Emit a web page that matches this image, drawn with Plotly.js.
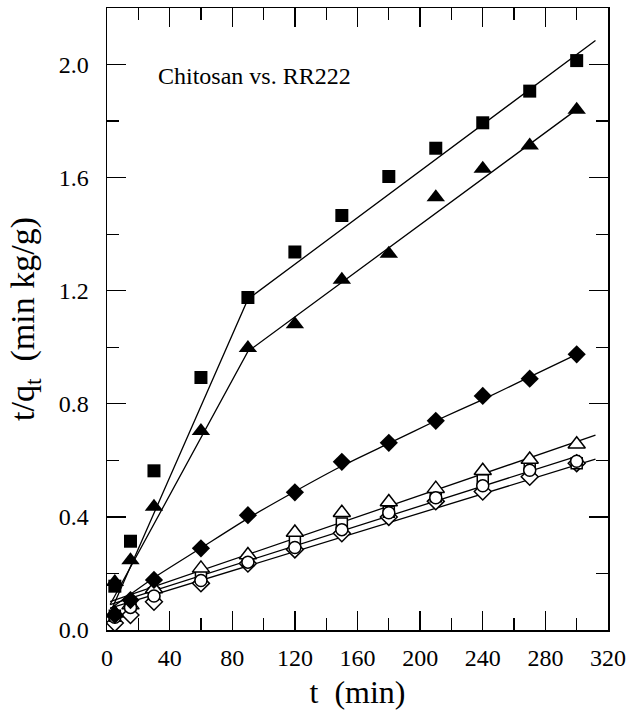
<!DOCTYPE html>
<html>
<head>
<meta charset="utf-8">
<script src="https://cdn.plot.ly/plotly-3.0.1.min.js"></script>
<style>html,body{margin:0;padding:0;background:#fff;}#chart{width:628px;height:721px;}</style>
</head>
<body>
<div id="chart"></div>
<script>
// Sampling times (min)
const t = [5, 15, 30, 60, 90, 120, 150, 180, 210, 240, 270, 300];

// Measured t/qt values (min kg/g)
const squareFilled   = [0.155, 0.314, 0.563, 0.893, 1.176, 1.337, 1.466, 1.604, 1.704, 1.794, 1.906, 2.014];
const triangleFilled = [0.170, 0.247, 0.436, 0.704, 0.997, 1.081, 1.239, 1.331, 1.531, 1.631, 1.714, 1.840];
const diamondFilled  = [0.053, 0.106, 0.177, 0.289, 0.406, 0.487, 0.595, 0.662, 0.740, 0.828, 0.889, 0.975];
const triangleOpen   = [0.059, 0.088, 0.145, 0.218, 0.265, 0.345, 0.415, 0.453, 0.500, 0.563, 0.603, 0.657];
const squareOpen     = [0.050, 0.090, 0.130, 0.190, 0.245, 0.312, 0.377, 0.418, 0.473, 0.530, 0.580, 0.590];
const circleOpen     = [0.045, 0.080, 0.120, 0.175, 0.240, 0.292, 0.355, 0.415, 0.468, 0.510, 0.565, 0.597];
const diamondOpen    = [0.025, 0.053, 0.100, 0.165, 0.235, 0.285, 0.342, 0.400, 0.455, 0.490, 0.542, 0.590];

// Fitted lines
const fitSquareT = [2, 90, 312];
const fitSquareY = [0.06, 1.17, 2.085];
const fitTriangleT = [2, 90, 301];
const fitTriangleY = [0.09, 0.985, 1.845];
const fitDiamondT = [2, 30, 60, 90, 120, 150, 180, 210, 240, 270, 302];
const fitDiamondY = [0.075, 0.185, 0.29, 0.395, 0.49, 0.58, 0.66, 0.74, 0.815, 0.895, 0.98];
const fitOpenTopT = [2, 312];
const fitOpenTopY = [0.10, 0.689];
const fitOpenMidT = [2, 302];
const fitOpenMidY = [0.09, 0.618];
const fitOpenLowT = [2, 312];
const fitOpenLowY = [0.077, 0.604];

const lineStyle = {color: '#000', width: 1.3};
function fit(x, y, shape) {
  return {x: x, y: y, mode: 'lines', line: Object.assign({shape: shape || 'linear', smoothing: 0.6}, lineStyle), hoverinfo: 'skip', showlegend: false};
}
function pts(y, symbol, size, open) {
  return {x: t, y: y, mode: 'markers', showlegend: false,
    marker: {symbol: symbol, size: size, color: open ? '#fff' : '#000',
             line: {color: '#000', width: open ? 1.5 : 0}}};
}

const data = [
  fit(fitSquareT, fitSquareY),
  fit(fitTriangleT, fitTriangleY),
  fit(fitDiamondT, fitDiamondY, 'spline'),
  fit(fitOpenTopT, fitOpenTopY),
  fit(fitOpenMidT, fitOpenMidY),
  fit(fitOpenLowT, fitOpenLowY),
  pts(diamondOpen, 'diamond', 13, true),
  pts(squareOpen, 'square', 11, true),
  pts(triangleOpen, 'triangle-up', 15, true),
  pts(circleOpen, 'circle', 12, true),
  pts(squareFilled, 'square', 13, false),
  pts(triangleFilled, 'triangle-up', 16, false),
  pts(diamondFilled, 'diamond', 14, false)
];

const F1 = 'Liberation Serif';
const F2 = 'Times New Roman';
const layout = {
  width: 628, height: 721,
  margin: {l: 107, r: 20, t: 8, b: 91},
  paper_bgcolor: '#fff', plot_bgcolor: '#fff',
  font: {family: F1, size: 24, color: '#000'},
  showlegend: false,
  xaxis: {
    range: [0, 320], dtick: 40, tick0: 0,
    ticks: 'inside', ticklen: 19, tickwidth: 1.3, tickcolor: '#000',
    minor: {dtick: 20, ticks: 'inside', ticklen: 12, tickwidth: 1.3, tickcolor: '#000'},
    showline: true, linecolor: '#000', linewidth: 1.5, mirror: 'ticks',
    showgrid: false, zeroline: false,
    tickfont: {family: F1, size: 24, color: '#000'},
    ticklabelstandoff: 6,
    title: {text: 't&nbsp;&nbsp;(min)', font: {family: F2, size: 32, color: '#000'}, standoff: 10}
  },
  yaxis: {
    range: [0, 2.2], dtick: 0.4, tick0: 0, tickformat: '.1f',
    ticks: 'inside', ticklen: 19, tickwidth: 1.3, tickcolor: '#000',
    minor: {dtick: 0.2, ticks: 'inside', ticklen: 12, tickwidth: 1.3, tickcolor: '#000'},
    showline: true, linecolor: '#000', linewidth: 1.5, mirror: 'ticks',
    showgrid: false, zeroline: false,
    tickfont: {family: F1, size: 24, color: '#000'},
    ticklabelstandoff: 12,
    title: {text: 't/q<sub>t</sub>&nbsp;&nbsp;(min kg/g)', font: {family: F2, size: 34, color: '#000'}, standoff: 14}
  },
  annotations: [{
    text: 'Chitosan vs. RR222', xref: 'x', yref: 'y', x: 31, y: 1.96,
    xanchor: 'left', yanchor: 'middle', showarrow: false,
    font: {family: F1, size: 24, color: '#000'}
  }]
};

Plotly.newPlot('chart', data, layout, {staticPlot: true, displayModeBar: false});
</script>
</body>
</html>
